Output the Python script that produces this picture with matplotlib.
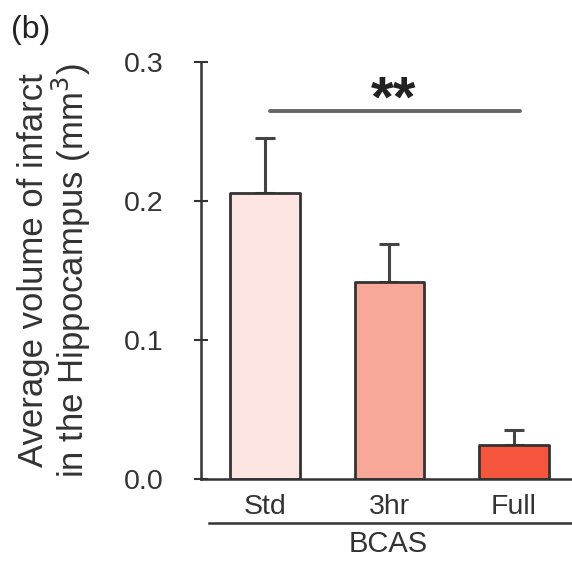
import matplotlib
matplotlib.use("Agg")
import matplotlib.pyplot as plt
import numpy as np

plt.rcParams['font.family'] = ['Liberation Sans', 'DejaVu Sans']

# values
groups = ['Std', '3hr', 'Full']
means = [0.206, 0.142, 0.0245]
sems = [0.039, 0.027, 0.0105]
colors = ['#fde6e1', '#f8a898', '#f5553c']
yticks = [0.0, 0.1, 0.2, 0.3]

fig = plt.figure(figsize=(5.72, 5.62), dpi=100)
ax = fig.add_axes([0.3514, 0.1477, 0.6486, 0.742])

x = np.arange(len(groups))
bars = ax.bar(x, means, width=0.56, color=colors, edgecolor='#333333',
              linewidth=2, zorder=2)
for b in bars:
    b.set_joinstyle('round')

ax.errorbar(x, means, yerr=[np.zeros(len(sems)), sems], fmt='none',
            ecolor='#444444', elinewidth=2.2, capsize=7, capthick=2.2, zorder=1)

# significance bar
ax.plot([0.04, 2.048], [0.265, 0.265], color='#666666', lw=2.8,
        solid_capstyle='round', clip_on=False)
ax.text(1.03, 0.2605, '**', ha='center', va='baseline', fontsize=42,
        fontweight='bold', color='#222222')

ax.set_xlim(-0.514, 2.466)
ax.set_ylim(0, 0.3)
ax.set_yticks(yticks)
ax.set_yticklabels([f'{t:.1f}' for t in yticks])
ax.set_xticks(x)
ax.set_xticklabels(groups)
ax.tick_params(axis='y', direction='inout', length=10, width=1.5, labelsize=20.5,
               pad=22, colors='#333333', labelcolor='#333333')
ax.tick_params(axis='x', length=0, labelsize=20.5, pad=11, labelcolor='#333333')

for s in ['top', 'right']:
    ax.spines[s].set_visible(False)
ax.spines['left'].set_linewidth(1.8)
ax.spines['bottom'].set_linewidth(1.8)
ax.spines['left'].set_color('#333333')
ax.spines['bottom'].set_color('#333333')

ax.set_ylabel('Average volume of infarct\nin the Hippocampus (mm$^3$)',
              fontsize=25, color='#333333', linespacing=1.0)
ax.yaxis.set_label_coords(-0.29, 0.5)

# BCAS grouping line under tick labels
ax.plot([0.0216, 1.0], [-0.1055, -0.1055], transform=ax.transAxes,
        color='#333333', lw=1.8, clip_on=False)
ax.text(0.504, -0.155, 'BCAS', transform=ax.transAxes, ha='center',
        va='center', fontsize=21, color='#333333')

fig.text(0.02, 0.932, '(b)', fontsize=23, color='#222222')

fig.savefig('out.png', dpi=100)
